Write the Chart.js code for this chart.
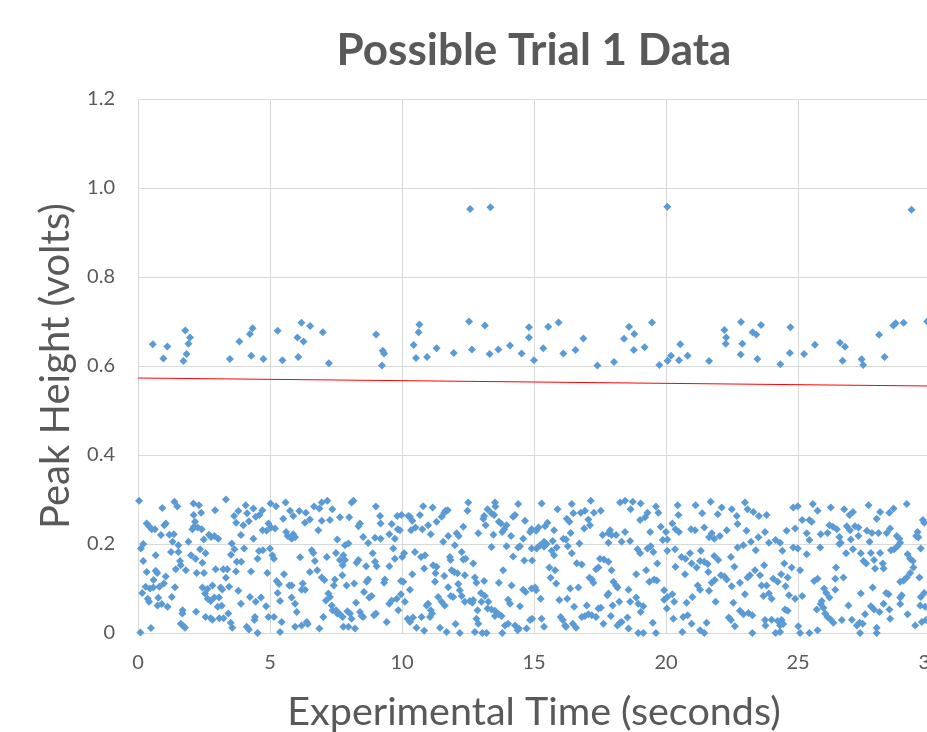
<!DOCTYPE html>
<html>
<head>
<meta charset="utf-8">
<title>Possible Trial 1 Data</title>
<script src="https://cdn.jsdelivr.net/npm/chart.js@4.4.1/dist/chart.umd.min.js"></script>
<style>
  html, body { margin: 0; padding: 0; background: #fff; overflow: hidden; }
  #wrap { width: 1054px; height: 732px; }
</style>
</head>
<body>
<div id="wrap"><canvas id="trialChart" width="1054" height="732"></canvas></div>
<script>
// PEAK DATA  [time (s), peak height (V)]

// low band, 0 - 5 s
const lowPeaksA = [
  [0.04,0.297],[0.92,0.281],[1.38,0.295],[1.49,0.284],[2.10,0.291],[2.31,0.287],[2.92,0.276],[3.33,0.300],[4.08,0.287],[4.37,0.280],[4.71,0.276],
  [0.33,0.246],[0.42,0.240],[0.52,0.233],[0.64,0.233],[0.87,0.220],[1.00,0.242],[1.05,0.246],[1.19,0.221],[1.36,0.222],[2.11,0.265],[2.39,0.270],
  [2.16,0.250],[2.12,0.239],[2.06,0.233],[2.26,0.237],[2.41,0.233],[2.69,0.221],[2.77,0.216],[2.89,0.218],[3.04,0.212],[2.49,0.210],[3.64,0.263],
  [3.80,0.274],[3.72,0.248],[3.99,0.242],[3.90,0.220],[4.13,0.269],[4.20,0.251],[4.46,0.261],[4.60,0.265],[4.37,0.212],[4.72,0.231],
  [0.11,0.190],[0.20,0.200],[1.31,0.205],[1.53,0.197],[1.91,0.205],[1.25,0.182],[1.53,0.182],[3.55,0.201],[3.65,0.188],[3.52,0.176],[4.02,0.190],[4.58,0.184],
  [0.20,0.162],[0.67,0.175],[1.59,0.162],[2.01,0.175],[2.18,0.167],[2.35,0.188],[2.56,0.179],[2.44,0.158],[1.62,0.152],[1.43,0.143],[1.81,0.141],
  [2.22,0.135],[2.50,0.135],[2.94,0.143],[3.23,0.143],[3.38,0.143],[3.33,0.124],[3.71,0.138],[3.91,0.160],[3.74,0.160],[4.28,0.138],[4.53,0.167],[4.73,0.186],
  [0.33,0.137],[0.67,0.140],[0.73,0.135],[1.05,0.127],[0.59,0.119],[0.29,0.104],[0.45,0.100],[0.58,0.102],[0.81,0.104],[0.98,0.111],[1.40,0.103],
  [2.44,0.102],[2.63,0.099],[2.82,0.107],[3.13,0.102],[3.19,0.098],[3.45,0.104],[3.80,0.095],
  [0.16,0.090],[0.37,0.077],[0.42,0.070],[0.77,0.079],[0.74,0.062],[0.90,0.065],[1.12,0.059],[1.28,0.081],[2.54,0.089],[2.64,0.077],[2.75,0.072],
  [2.89,0.080],[3.07,0.080],[3.02,0.059],[3.17,0.061],[3.90,0.066],[4.24,0.081],[4.46,0.070],[4.66,0.080],
  [1.69,0.051],[1.68,0.044],[2.20,0.048],[2.56,0.036],[2.75,0.033],[2.82,0.030],[3.08,0.033],[3.24,0.033],[3.42,0.044],[3.51,0.023],[3.57,0.012],
  [4.12,0.014],[4.20,0.008],[4.43,0.036],[4.41,0.029],[1.62,0.021],[1.72,0.016],[1.78,0.012],[0.49,0.011],[0.09,0.001],[4.53,0.000]
];

// low band, 5 - 10 s
const lowPeaksB = [
  [5.02,0.291],[5.23,0.285],[5.59,0.293],[5.76,0.275],[5.88,0.263],[6.11,0.274],[6.36,0.270],[6.32,0.248],[6.51,0.255],[6.67,0.284],[6.87,0.280],
  [6.96,0.293],[7.17,0.297],[7.36,0.278],[6.96,0.252],[7.27,0.254],[7.65,0.260],[8.00,0.260],[8.09,0.293],[8.16,0.297],[8.35,0.240],[8.41,0.246],
  [9.01,0.284],[9.17,0.263],[9.19,0.246],[9.61,0.245],[9.84,0.233],[9.82,0.263],[4.94,0.246],[4.87,0.230],[5.19,0.235],[5.04,0.237],[5.50,0.257],
  [5.61,0.227],[5.67,0.218],[5.82,0.212],[5.88,0.222],[5.95,0.215],[6.83,0.231],[7.55,0.210],[7.84,0.197],[7.97,0.201],[8.53,0.216],[8.72,0.202],
  [8.98,0.214],[9.19,0.212],[9.52,0.222],[9.73,0.212],
  [5.00,0.190],[5.15,0.167],[5.09,0.175],[6.14,0.170],[6.58,0.186],[6.64,0.180],[6.70,0.162],[7.15,0.171],[7.50,0.180],[7.65,0.164],[7.78,0.175],
  [7.84,0.164],[7.75,0.152],[7.74,0.130],[7.46,0.120],[7.42,0.107],[6.96,0.125],[7.06,0.119],[6.51,0.137],[6.79,0.141],[8.35,0.164],[8.28,0.158],
  [8.64,0.150],[8.89,0.179],[9.04,0.150],[8.98,0.160],[9.67,0.190],[9.73,0.167],[9.52,0.150],[9.35,0.120],[9.32,0.113],[8.72,0.120],[8.66,0.115],
  [8.56,0.092],[8.19,0.111],[7.90,0.107],
  [4.90,0.135],[5.25,0.117],[5.34,0.110],[5.53,0.132],[5.73,0.107],[5.82,0.107],[6.24,0.111],[6.20,0.097],[6.33,0.097],[5.29,0.090],[5.38,0.072],
  [5.82,0.080],[5.95,0.066],[6.01,0.047],[4.85,0.060],[4.94,0.036],[5.15,0.036],[5.44,0.025],[5.95,0.014],[6.20,0.017],[6.39,0.025],[6.43,0.020],
  [6.87,0.010],[7.02,0.036],[7.12,0.073],[7.27,0.081],[7.21,0.089],[7.34,0.062],[7.37,0.051],[7.50,0.051],[7.55,0.044],[7.65,0.042],[7.75,0.036],
  [7.93,0.049],[8.03,0.044],[8.09,0.032],[8.26,0.068],[8.41,0.047],[8.47,0.038],[8.53,0.036],[8.76,0.080],[8.85,0.083],[8.94,0.040],[9.01,0.044],
  [9.42,0.025],[9.52,0.066],[9.61,0.073],[9.80,0.077],[9.86,0.051],[5.38,0.002],[7.78,0.014],[7.97,0.014],[8.22,0.010]
];

// low band, 10 - 15 s
const lowPeaksC = [
  [10.80,0.285],[11.16,0.282],[10.68,0.265],[10.30,0.261],[10.39,0.252],[10.24,0.263],[9.98,0.265],[9.92,0.231],[10.34,0.231],[10.51,0.237],
  [10.77,0.233],[10.99,0.242],[11.09,0.222],[11.31,0.250],[11.50,0.261],[11.65,0.275],[11.60,0.270],[11.73,0.276],[12.51,0.293],[12.48,0.275],
  [12.32,0.239],[12.07,0.224],[12.15,0.218],[11.75,0.218],[11.56,0.205],[12.89,0.224],[13.11,0.263],[13.08,0.257],[13.24,0.278],[13.39,0.269],
  [13.52,0.293],[13.54,0.284],[13.49,0.265],[13.67,0.250],[13.75,0.246],[13.80,0.227],[13.87,0.233],[13.96,0.242],[14.13,0.218],[14.21,0.261],
  [14.28,0.265],[14.40,0.290],[14.66,0.252],[14.85,0.227],[14.91,0.233],[14.59,0.212],[13.17,0.242],[13.46,0.221],
  [10.01,0.171],[10.08,0.179],[10.49,0.182],[10.72,0.171],[10.87,0.175],[10.84,0.145],[11.18,0.152],[11.31,0.149],[11.27,0.134],[11.60,0.128],
  [11.81,0.171],[11.84,0.164],[12.00,0.197],[12.26,0.182],[12.32,0.165],[12.41,0.167],[12.70,0.156],[11.88,0.141],[11.98,0.137],[12.10,0.134],
  [12.38,0.130],[12.76,0.125],[12.82,0.113],[13.11,0.117],[13.39,0.193],[13.83,0.141],[13.96,0.195],[14.21,0.172],[14.40,0.192],[14.47,0.195],
  [14.63,0.163],[14.93,0.163],[14.91,0.190],
  [9.96,0.117],[10.05,0.115],[10.39,0.132],[10.30,0.097],[9.96,0.087],[10.11,0.070],[11.25,0.115],[10.99,0.066],[10.93,0.062],[11.09,0.051],
  [11.14,0.044],[11.37,0.081],[11.50,0.070],[11.62,0.062],[11.75,0.103],[11.94,0.081],[11.85,0.083],[12.13,0.110],[12.19,0.096],[12.26,0.083],
  [12.38,0.070],[12.57,0.072],[12.70,0.074],[12.66,0.068],[12.86,0.051],[13.01,0.070],[12.99,0.090],[13.14,0.083],[13.27,0.070],[13.24,0.055],
  [13.39,0.053],[13.52,0.050],[13.67,0.042],[13.77,0.038],[14.15,0.107],[14.02,0.075],[14.09,0.066],[14.47,0.060],[14.59,0.097],[14.68,0.092],
  [14.91,0.100],[13.67,0.113],
  [10.21,0.032],[10.30,0.025],[10.42,0.035],[10.74,0.036],[11.06,0.036],[10.55,0.012],[10.84,0.005],[11.44,0.012],[11.69,0.002],[12.03,0.020],
  [12.19,0.000],[12.76,0.002],[12.82,0.032],[12.89,0.021],[13.04,0.000],[13.20,0.000],[13.52,0.038],[13.80,0.000],[13.90,0.017],[14.02,0.021],
  [14.28,0.017],[14.38,0.006],[14.43,0.010],[14.85,0.029],[14.93,0.032],[14.72,0.010]
];

// low band, 15 - 20 s
const lowPeaksD = [
  [15.29,0.291],[15.89,0.278],[16.43,0.290],[16.49,0.269],[16.77,0.270],[16.93,0.275],[17.15,0.297],[17.27,0.270],[17.53,0.275],[17.06,0.255],
  [17.12,0.242],[16.90,0.235],[16.24,0.257],[16.34,0.250],[15.51,0.248],[15.76,0.231],[15.42,0.240],[15.17,0.237],[15.08,0.230],[16.39,0.225],
  [16.11,0.212],[16.21,0.210],[15.71,0.207],[15.38,0.205],[15.48,0.200],[17.60,0.220],[17.88,0.231],[17.82,0.224],[17.94,0.220],[18.11,0.220],
  [18.45,0.227],[18.26,0.293],[18.45,0.297],[18.74,0.295],[19.04,0.291],[18.66,0.278],[19.30,0.270],[19.21,0.260],[19.02,0.254],[19.62,0.284],
  [19.71,0.270],[19.40,0.227],[19.80,0.239],[20.00,0.227],[20.05,0.210],[19.88,0.209],[18.32,0.205],[18.64,0.207],[16.72,0.201],[17.82,0.203],
  [15.10,0.190],[15.23,0.197],[15.38,0.194],[15.67,0.185],[15.76,0.175],[15.86,0.192],[16.28,0.195],[16.43,0.179],[18.92,0.188],[19.02,0.179],
  [19.30,0.190],[19.42,0.195],[19.52,0.182],[19.67,0.156],[20.05,0.185],
  [15.58,0.147],[15.80,0.141],[15.63,0.124],[15.84,0.111],[16.62,0.157],[16.81,0.154],[17.35,0.143],[17.44,0.147],[17.50,0.167],[17.65,0.165],
  [17.82,0.160],[17.94,0.141],[17.10,0.124],[17.19,0.120],[17.25,0.113],[18.01,0.115],[18.11,0.107],[18.16,0.102],[18.87,0.132],[19.25,0.141],
  [19.37,0.115],[19.55,0.120],[19.65,0.118],[19.93,0.096],[18.58,0.097],[17.82,0.089],[17.78,0.085],
  [15.04,0.102],[15.08,0.096],[15.25,0.077],[15.96,0.074],[16.26,0.077],[16.37,0.100],[16.68,0.102],[16.52,0.059],[17.00,0.062],[17.44,0.055],
  [17.53,0.057],[17.98,0.062],[18.23,0.070],[18.64,0.070],[18.87,0.080],[18.95,0.066],[19.14,0.060],[19.04,0.047],[19.93,0.075],[20.05,0.081],
  [20.03,0.055],
  [15.29,0.032],[15.38,0.014],[16.01,0.036],[16.09,0.029],[16.18,0.017],[16.21,0.014],[16.47,0.021],[16.59,0.012],[16.81,0.036],[16.93,0.038],
  [17.06,0.042],[17.19,0.040],[17.35,0.036],[17.63,0.021],[17.91,0.038],[18.16,0.017],[18.26,0.023],[18.32,0.025],[18.54,0.035],[18.58,0.010],
  [18.95,0.000],[19.14,0.000],[19.50,0.023],[19.62,0.000]
];

// low band, 20 - 25 s
const lowPeaksE = [
  [20.44,0.287],[20.47,0.265],[21.12,0.287],[21.37,0.269],[21.69,0.295],[21.96,0.267],[22.11,0.282],[22.49,0.278],[22.68,0.263],[22.99,0.293],
  [23.09,0.278],[23.31,0.272],[23.52,0.263],[23.81,0.265],[24.82,0.282],[24.99,0.285],[25.16,0.254],[20.24,0.246],[20.36,0.233],[20.49,0.227],
  [20.95,0.233],[21.10,0.231],[21.45,0.237],[21.73,0.224],[21.63,0.215],[21.83,0.212],[22.04,0.218],[22.30,0.231],[22.71,0.245],[23.05,0.230],
  [23.50,0.215],[23.75,0.227],[23.90,0.203],[24.15,0.209],[24.32,0.203],[24.57,0.230],[24.89,0.235],
  [20.34,0.188],[20.59,0.171],[20.74,0.167],[20.91,0.179],[20.97,0.156],[21.16,0.147],[21.32,0.185],[21.29,0.162],[21.45,0.160],[21.58,0.155],
  [21.83,0.173],[21.98,0.164],[22.46,0.171],[22.71,0.192],[22.93,0.197],[23.22,0.205],[23.40,0.186],[24.41,0.185],[24.82,0.192],[24.99,0.190],
  [22.59,0.149],[20.36,0.149],[20.72,0.132],[21.60,0.137],[22.08,0.130],[22.21,0.127],[22.30,0.120],[21.85,0.119],[21.73,0.113],[22.80,0.113],
  [23.09,0.125],[23.18,0.130],[23.37,0.141],[23.56,0.130],[23.72,0.152],[24.06,0.122],[24.36,0.132],[24.48,0.156],[24.61,0.125],[24.76,0.147],
  [25.08,0.141],
  [21.20,0.107],[21.29,0.097],[21.63,0.095],[22.49,0.105],[22.99,0.087],[23.62,0.107],[23.81,0.107],[23.69,0.083],[23.90,0.089],[24.00,0.077],
  [24.23,0.115],[24.53,0.105],[24.66,0.085],[24.89,0.077],[25.16,0.083],[20.24,0.087],[20.31,0.070],[20.78,0.068],[21.00,0.081],[21.88,0.070],
  [22.55,0.068],[22.80,0.050],[22.93,0.042],[23.12,0.045],[23.27,0.040],[24.51,0.053],[24.61,0.050],
  [20.28,0.032],[20.65,0.036],[20.82,0.040],[20.97,0.021],[21.54,0.023],[22.38,0.035],[22.46,0.029],[22.61,0.015],[23.75,0.029],[23.77,0.017],
  [24.00,0.030],[24.23,0.027],[24.38,0.029],[24.32,0.017],[24.44,0.020],[20.62,0.002],[21.29,0.006],[21.45,0.000],[23.27,0.000],[24.15,0.000],
  [24.32,0.002],[25.01,0.015],[25.08,0.000]
];

// low band, 25 - 30 s
const lowPeaksF = [
  [25.56,0.290],[25.74,0.275],[26.24,0.282],[26.75,0.278],[26.95,0.265],[27.08,0.272],[27.67,0.287],[28.11,0.272],[27.98,0.257],[28.46,0.270],
  [28.62,0.280],[29.12,0.290],[25.52,0.250],[25.43,0.254],[26.19,0.242],[26.32,0.239],[26.47,0.233],[26.85,0.240],[26.97,0.231],[27.16,0.240],
  [27.29,0.237],[27.61,0.230],[27.80,0.225],[28.05,0.225],[28.36,0.225],[28.49,0.235],[28.74,0.218],[28.84,0.212],[29.53,0.227],[29.48,0.218],
  [29.73,0.254],[29.78,0.248],[25.33,0.224],[25.43,0.209],[25.86,0.222],[26.12,0.225],[26.57,0.216],[26.62,0.203],[27.00,0.210],[27.29,0.218],
  [27.71,0.205],[28.87,0.203],[29.56,0.215],
  [25.84,0.192],[26.57,0.200],[26.82,0.179],[27.08,0.188],[27.38,0.179],[27.48,0.162],[27.58,0.156],[27.76,0.180],[28.11,0.180],[27.88,0.164],
  [27.92,0.145],[28.21,0.156],[28.24,0.145],[28.52,0.186],[28.64,0.188],[28.77,0.195],[29.15,0.177],[29.25,0.167],[29.35,0.162],[29.37,0.147],
  [29.65,0.190],[25.33,0.177],[26.44,0.147],[26.72,0.125],[26.41,0.122],[25.74,0.122],[25.61,0.117],[29.60,0.125],[29.25,0.135],[29.12,0.125],
  [28.87,0.115],[29.00,0.118],
  [25.99,0.100],[26.07,0.090],[26.19,0.080],[26.41,0.097],[27.38,0.089],[27.83,0.102],[28.34,0.090],[28.43,0.087],[28.87,0.080],[28.93,0.085],
  [29.65,0.081],[29.78,0.090],[29.82,0.059],[29.63,0.062],[28.87,0.065],[25.90,0.072],[25.86,0.065],[25.96,0.057],[25.71,0.053],[26.91,0.062],
  [27.76,0.060],[27.88,0.053],[28.09,0.047],[28.24,0.066],[28.49,0.032],[28.46,0.053],
  [26.03,0.044],[26.12,0.036],[26.24,0.030],[26.34,0.023],[26.66,0.029],[27.04,0.030],[27.23,0.017],[27.33,0.023],[27.45,0.021],[27.54,0.042],
  [27.98,0.012],[29.15,0.042],[29.44,0.017],[29.69,0.025],[29.85,0.029],[25.43,0.000],[25.74,0.006],[27.35,0.000],[27.98,0.000]
];

// middle band (0.6 - 0.7 V)
const midPeaks = [
  [0.56,0.649],[0.96,0.617],[1.11,0.644],[1.79,0.680],[1.97,0.664],[1.91,0.650],[1.84,0.627],[1.72,0.611],[3.48,0.616],[3.84,0.655],
  [4.24,0.672],[4.34,0.685],[4.29,0.623],[4.75,0.616],[5.29,0.679],[5.47,0.613],[6.19,0.697],[6.52,0.690],[6.04,0.664],[6.27,0.655],
  [6.07,0.620],[7.00,0.676],[7.23,0.606],[9.02,0.671],[9.27,0.634],[9.32,0.628],[9.24,0.601],[10.66,0.693],[10.63,0.676],[10.44,0.647],
  [10.53,0.618],[10.95,0.620],[11.31,0.640],[11.96,0.629],[12.54,0.700],[12.65,0.637],[13.14,0.691],[13.32,0.627],[13.65,0.637],[14.09,0.646],
  [14.53,0.628],[14.81,0.687],[14.81,0.664],[15.00,0.613],[15.35,0.640],[15.54,0.688],[15.93,0.698],[16.11,0.628],[16.57,0.636],[16.87,0.662],
  [17.40,0.601],[18.03,0.609],[18.41,0.661],[18.60,0.688],[18.80,0.672],[18.78,0.636],[19.19,0.642],[19.47,0.698],[19.75,0.602],[20.06,0.612],
  [20.19,0.623],[20.49,0.613],[20.54,0.649],[20.82,0.623],[21.63,0.611],[22.21,0.681],[22.28,0.664],[22.26,0.650],[22.83,0.626],[22.84,0.699],
  [22.89,0.650],[23.28,0.676],[23.42,0.671],[23.46,0.616],[23.60,0.692],[24.33,0.604],[24.71,0.687],[24.69,0.629],[25.23,0.627],[25.64,0.648],
  [26.59,0.652],[26.78,0.643],[26.69,0.612],[27.41,0.615],[27.47,0.602],[28.07,0.670],[28.28,0.620],[28.61,0.691],[28.70,0.696],[29.00,0.697],
  [29.89,0.700]
];

// high peaks (~0.95 V)
const highPeaks = [[12.58,0.953],[13.35,0.957],[20.05,0.958],[29.30,0.951]];

// linear trend line ends
const trendTime = [0, 30];
const trendHeight = [0.573, 0.555];


// BUILD DATASETS

const allPeaks = [].concat(lowPeaksA, lowPeaksB, lowPeaksC, lowPeaksD, lowPeaksE, lowPeaksF, midPeaks, highPeaks)
  .map(p => ({ x: p[0], y: p[1] }));

const trendPoints = trendTime.map((t, i) => ({ x: t, y: trendHeight[i] }));

const textColor = "#595959";
const gridColor = "#d9d9d9";

Chart.defaults.font.family = "Lato, 'Open Sans', sans-serif";
Chart.defaults.color = textColor;


// CHART

const ctx = document.getElementById("trialChart");

new Chart(ctx, {

    type: "scatter",

    data: {

        datasets: [
            {
                label: "Linear trend",
                data: trendPoints,
                showLine: true,
                borderColor: "#ff0000",
                borderWidth: 1,
                pointRadius: 0,
                order: 0
            },
            {
                label: "Peak Height",
                data: allPeaks,
                pointStyle: "rectRot",
                pointRadius: 4,
                pointHoverRadius: 4,
                pointBackgroundColor: "#5b9bd5",
                pointBorderColor: "#5b9bd5",
                pointBorderWidth: 0,
                clip: false,
                order: 1
            }
        ]
    },

    options: {

        responsive: false,
        animation: false,
        devicePixelRatio: 1,

        layout: {
            padding: { left: 0, right: 124, top: 0, bottom: 0 }
        },

        plugins: {
            legend: { display: false },
            tooltip: { enabled: false },
            title: {
                display: true,
                fullSize: false,
                text: "Possible Trial 1 Data",
                color: textColor,
                font: { size: 44, weight: "bold" },
                padding: { top: 24, bottom: 22.2 }
            }
        },

        scales: {

            x: {
                type: "linear",
                min: 0,
                max: 30,
                ticks: { stepSize: 5, padding: 18, font: { size: 20 }, color: textColor },
                grid: { color: gridColor, drawTicks: false },
                border: { color: gridColor },
                title: {
                    display: true,
                    text: "Experimental Time (seconds)",
                    color: textColor,
                    font: { size: 39.5, lineHeight: 1 },
                    padding: { top: 0, bottom: 0 }
                },
                afterFit: (scale) => { scale.height = 99; }
            },

            y: {
                min: 0,
                max: 1.2,
                ticks: { stepSize: 0.2, padding: 23, font: { size: 20 }, color: textColor },
                grid: { color: gridColor, drawTicks: false },
                border: { color: gridColor },
                title: {
                    display: true,
                    text: "Peak Height (volts)",
                    color: textColor,
                    font: { size: 40, lineHeight: 1 },
                    padding: { top: 36, bottom: 0 }
                },
                afterFit: (scale) => { scale.width = 138; }
            }
        }
    }
});
</script>
</body>
</html>
